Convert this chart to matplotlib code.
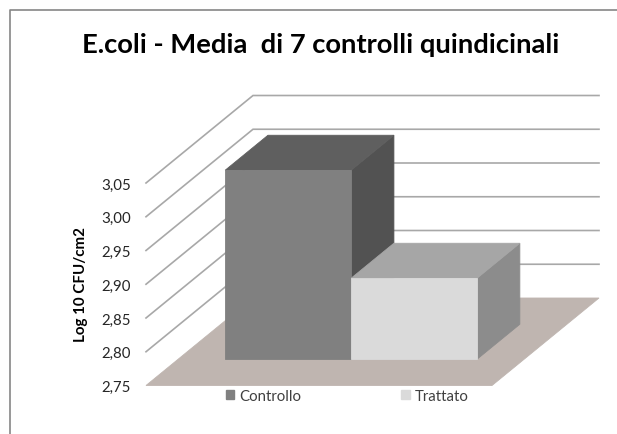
# E.coli chart, fake 3D bars drawn on a normal 2D axes
import numpy as np
import matplotlib
matplotlib.use('Agg')
import matplotlib.pyplot as plt
from matplotlib.lines import Line2D
from matplotlib.patches import Patch

plt.rcParams['font.family'] = ['Lato', 'DejaVu Sans']

# Data
categories = ['Controllo', 'Trattato']
values = [3.03, 2.87]
ticks = [2.75, 2.80, 2.85, 2.90, 2.95, 3.00, 3.05]
tick_labels = ['2,75', '2,80', '2,85', '2,90', '2,95', '3,00', '3,05']

# Colours for each bar: front, top, side
front = ['#808080', '#dadada']
top = ['#5f5f5f', '#a6a6a6']
side = ['#525252', '#8c8c8c']
floor_col = '#bfb5b0'
grid_col = '#a8a8a8'

W, H = 617, 435
bar_w = 0.728       # width of a bar, one category = 1
dep_x = 107/173     # shift of the back wall in x units
dep_y = 87.5/33.75*0.05  # shift of the back wall in y units
d0, d1 = 0.3, 0.7   # bar start and end along the depth


def proj(x, v, d):
    return x + d*dep_x, v + d*dep_y


def face(ax, pts, col, z):
    ax.fill(*zip(*pts), color=col, lw=0.6, zorder=z, clip_on=False)


fig = plt.figure(figsize=(W/100, H/100), dpi=100)
left, right = 146/W, 600/W
bottom, top_ax = 1 - 386.5/H, 1 - 97/H
ax = fig.add_axes([left, bottom, right - left, top_ax - bottom])
ax.set_xlim(0, 454/173)
for s in ax.spines.values():
    s.set_visible(False)
ax.patch.set_alpha(0)

# Floor
base = ticks[0]
face(ax, [proj(0, base, 0), proj(2, base, 0), proj(2, base, 1), proj(0, base, 1)],
     floor_col, 1)

# Wall grid lines
for t in ticks[1:]:
    ax.plot(*zip(proj(0, t, 0), proj(0, t, 1), proj(2, t, 1)),
            color=grid_col, lw=1.2, zorder=0, clip_on=False,
            solid_joinstyle='miter')

# Bars
for i in range(len(values)):
    x0 = i + (1 - bar_w) if i == 0 else 1
    x1 = x0 + bar_w
    v = values[i]
    face(ax, [proj(x1, base, d0), proj(x1, base, d1), proj(x1, v, d1), proj(x1, v, d0)],
         side[i], 2 + i)
    face(ax, [proj(x0, v, d0), proj(x1, v, d0), proj(x1, v, d1), proj(x0, v, d1)],
         top[i], 2 + i)
    face(ax, [proj(x0, base, d0), proj(x1, base, d0), proj(x1, v, d0), proj(x0, v, d0)],
         front[i], 2 + i)

ax.set_xticks([])
ax.set_yticks(ticks)
ax.set_yticklabels(tick_labels, fontsize=10.8, color='#262626')
ax.tick_params(axis='y', length=0, pad=11)
ax.set_ylim(base, base + 289.5/33.75*0.05)

fig.text(320.5/W, 1 - 45/H, 'E.coli - Media  di 7 controlli quindicinali',
         ha='center', va='center', fontsize=19.7, fontweight='bold', color='black')
fig.text(81/W, 1 - 285/H, 'Log 10 CFU/cm2', rotation=90, ha='center', va='center',
         fontsize=10.9, fontweight='bold', color='black')

handles = [Patch(color=front[0]), Patch(color=front[1])]
leg = fig.legend(handles, categories, ncol=2, loc='center left',
                 bbox_to_anchor=(226/W, 1 - 397/H), frameon=False, fontsize=10.8,
                 handlelength=0.55, handleheight=0.55, handletextpad=0.35,
                 columnspacing=6.65, borderpad=0, borderaxespad=0, labelcolor='#404040')

# Chart area border, only left and top are in the crop
fig.add_artist(Line2D([10/W, 10/W, 1], [0, 1 - 11/H, 1 - 11/H], color='#868686', lw=1.2,
                      transform=fig.transFigure))

plt.savefig('out.png', dpi=100)
